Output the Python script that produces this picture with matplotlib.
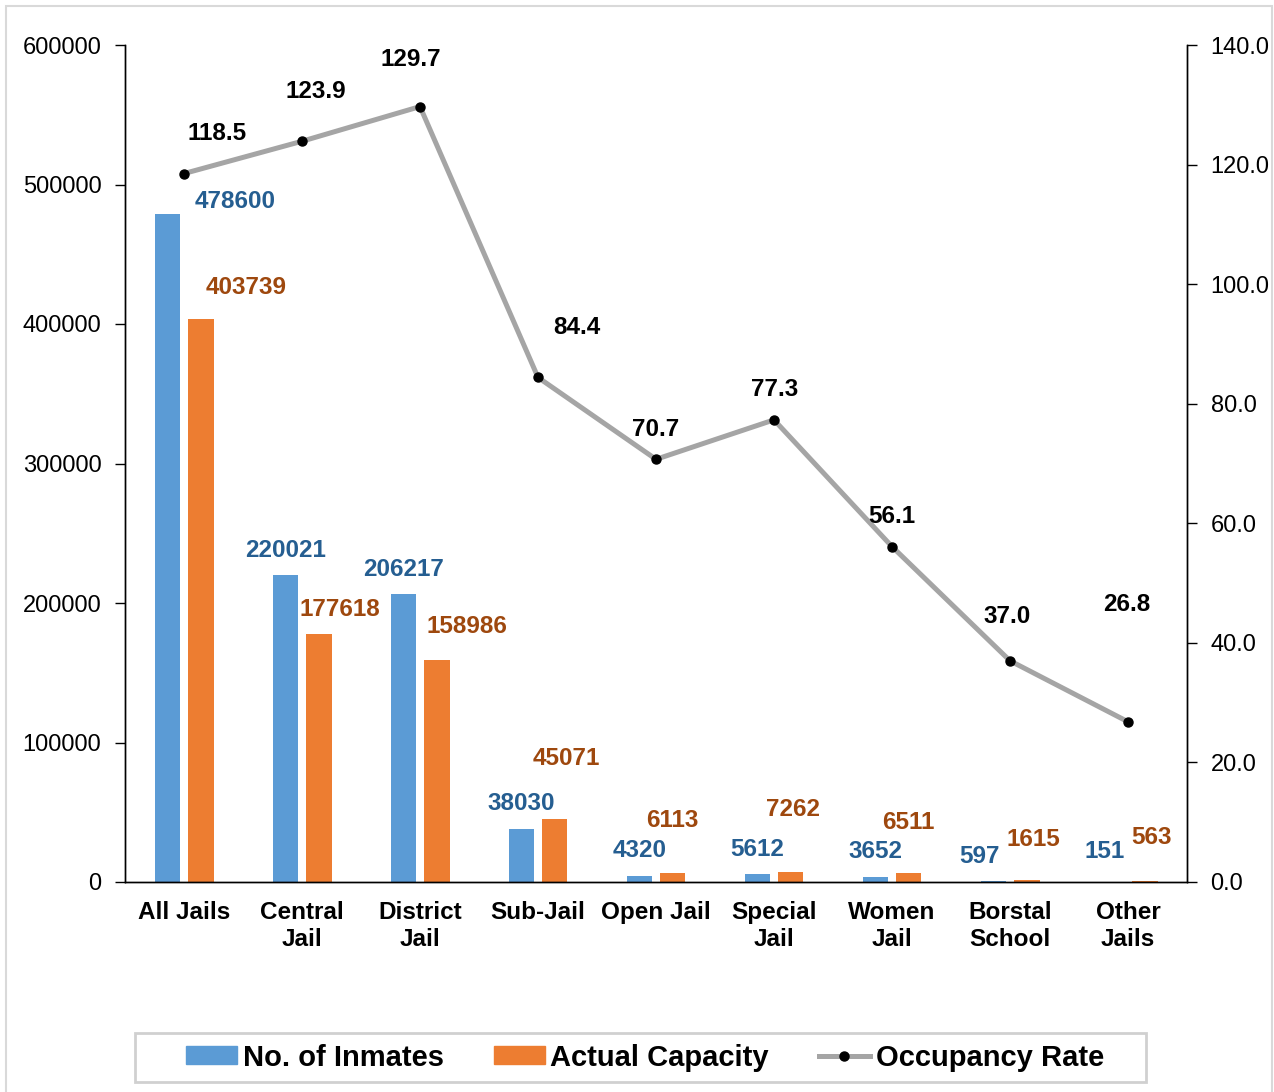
import matplotlib
matplotlib.use('Agg')
import matplotlib.pyplot as plt
from matplotlib.patches import Rectangle
from matplotlib.lines import Line2D
import numpy as np

plt.rcParams['font.family'] = ['Liberation Sans', 'DejaVu Sans']

# Data
categories = ['All Jails', 'Central\nJail', 'District\nJail', 'Sub-Jail', 'Open Jail',
              'Special\nJail', 'Women\nJail', 'Borstal\nSchool', 'Other\nJails']
inmates = [478600, 220021, 206217, 38030, 4320, 5612, 3652, 597, 151]
capacity = [403739, 177618, 158986, 45071, 6113, 7262, 6511, 1615, 563]
occupancy = [118.5, 123.9, 129.7, 84.4, 70.7, 77.3, 56.1, 37.0, 26.8]

BLUE = '#5B9BD5'
ORANGE = '#ED7D31'
BLUE_TXT = '#255E91'
ORANGE_TXT = '#9E480E'
GRAY = '#A5A5A5'

# label offsets in pixels (dx, dy) from the top of each mark
blue_off = [(68, 13), (0, 25), (0, 25), (0, 25), (0, 25), (0, 25), (0, 25), (-14, 25), (-7, 30)]
orange_off = [(46, 31), (21, 25), (30, 34), (12, 61), (0, 53), (2, 62), (0, 50), (7, 40), (7, 44)]
line_off = [(33, 40), (14, 50), (-9, 47), (39, 50), (0, 30), (1, 30), (0, 30), (-3, 44), (-1, 117)]

W, H = 1274, 1092
fig = plt.figure(figsize=(W / 100, H / 100), dpi=100)
ax = fig.add_axes([125 / W, 1 - 882 / H, (1187 - 125) / W, (882 - 45) / H])
ax2 = ax.twinx()

x = np.arange(len(categories))
w = 0.22
ax.bar(x - 0.14, inmates, w, color=BLUE, zorder=2)
ax.bar(x + 0.14, capacity, w, color=ORANGE, zorder=2)

ax.set_xlim(-0.5, len(categories) - 0.5)
ax.set_ylim(0, 600000)
ax.set_yticks(np.arange(0, 600001, 100000))
ax.set_xticks(x)
ax.set_xticklabels(categories, fontsize=17.5, fontweight='bold', linespacing=1.2)
ax.tick_params(axis='x', length=0, pad=14)
ax.tick_params(axis='y', labelsize=17, length=7, width=1, direction='out', pad=10)

ax2.set_ylim(0, 140)
ax2.set_yticks(np.arange(0, 141, 20))
ax2.set_yticklabels([f'{v:.1f}' for v in np.arange(0, 141, 20)])
ax2.tick_params(axis='y', labelsize=17, length=7, width=1, direction='out', pad=10)
ax2.plot(x, occupancy, color=GRAY, lw=3.6, marker='o', ms=6.5,
         markerfacecolor='black', markeredgecolor='black', zorder=3)

for a in (ax, ax2):
    a.spines['top'].set_visible(False)
    for s in ('left', 'right', 'bottom'):
        a.spines[s].set_color('black')
        a.spines[s].set_linewidth(1)

px = 72 / 100
for i in range(len(categories)):
    dx, dy = blue_off[i]
    ax.annotate(str(inmates[i]), (x[i] - 0.14, inmates[i]), xytext=(dx * px, dy * px),
                textcoords='offset points', ha='center', va='center',
                fontsize=17.5, fontweight='bold', color=BLUE_TXT)
    dx, dy = orange_off[i]
    ax.annotate(str(capacity[i]), (x[i] + 0.14, capacity[i]), xytext=(dx * px, dy * px),
                textcoords='offset points', ha='center', va='center',
                fontsize=17.5, fontweight='bold', color=ORANGE_TXT)
    dx, dy = line_off[i]
    ax2.annotate(f'{occupancy[i]:.1f}', (x[i], occupancy[i]), xytext=(dx * px, dy * px),
                 textcoords='offset points', ha='center', va='center',
                 fontsize=17.5, fontweight='bold', color='black')

handles = [Rectangle((0, 0), 1, 1, color=BLUE),
           Rectangle((0, 0), 1, 1, color=ORANGE),
           Line2D([], [], color=GRAY, lw=3.6, marker='o', ms=6.5,
                  markerfacecolor='black', markeredgecolor='black')]
leg = fig.legend(handles, ['No. of Inmates', 'Actual Capacity', 'Occupancy Rate'],
                 loc='center', bbox_to_anchor=(645 / W, 1 - 1057.5 / H),
                 ncol=3, frameon=False, prop={'size': 21, 'weight': 'bold'},
                 handlelength=1.75, handleheight=0.55, handletextpad=0.2,
                 columnspacing=1.7, borderpad=0.3)

# legend box
fig.patches.append(Rectangle((135 / W, 1 - 1082 / H), (1146 - 135) / W, 49 / H,
                             transform=fig.transFigure, fill=False,
                             edgecolor='#D0D0D0', lw=2))

# outer chart border
fig.patches.append(Rectangle((6 / W, -0.01), 1266 / W, 1 - 6 / H + 0.01,
                             transform=fig.transFigure, fill=False,
                             edgecolor='#D9D9D9', lw=1.5))

fig.savefig('out.png', dpi=100)
